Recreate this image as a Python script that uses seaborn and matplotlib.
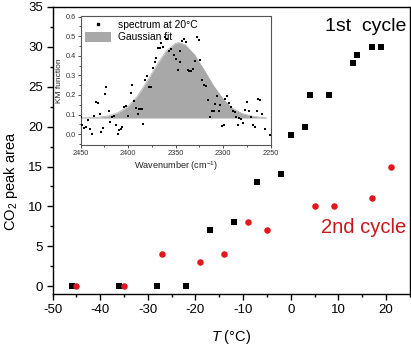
import matplotlib
matplotlib.use('Agg')
import matplotlib.pyplot as plt
from matplotlib.ticker import MultipleLocator
from matplotlib.patches import Patch
from matplotlib.lines import Line2D
import seaborn as sns

# --- main plot data: CO2 peak area vs temperature ---
cycle1_T = [-46, -36, -28, -22, -17, -12, -7, -2, 0, 3, 4, 8, 13, 14, 17, 19]
cycle1_area = [0, 0, 0, 0, 7, 8, 13, 14, 19, 20, 24, 24, 28, 29, 30, 30]
cycle2_T = [-45, -35, -27, -19, -14, -9, -5, 5, 9, 17, 21]
cycle2_area = [0, 0, 4, 3, 4, 8, 7, 10, 10, 11, 15]

# --- inset data: spectrum at 20 C ---
spec_wn = [2450, 2448, 2446, 2444, 2442, 2440, 2438, 2436, 2434, 2432, 2430, 2428,
           2426, 2424, 2423, 2420, 2419, 2417, 2415, 2413, 2411, 2410, 2408, 2406,
           2404, 2402, 2400, 2397, 2396, 2394, 2392, 2390, 2389, 2387, 2385, 2384,
           2382, 2380, 2378, 2376, 2374, 2372, 2371, 2369, 2366, 2365, 2363, 2361,
           2359, 2357, 2355, 2352, 2350, 2348, 2346, 2345, 2343, 2341, 2339, 2337,
           2336, 2334, 2332, 2330, 2328, 2326, 2324, 2322, 2320, 2318, 2316, 2314,
           2312, 2310, 2309, 2307, 2305, 2303, 2301, 2299, 2298, 2296, 2294, 2292,
           2290, 2288, 2287, 2285, 2283, 2281, 2279, 2277, 2275, 2273, 2271, 2269,
           2267, 2265, 2263, 2261, 2259, 2256, 2251]
spec_km = [0.087, 0.049, 0.031, 0.039, 0.070, 0.029, 0.002, 0.094, 0.165, 0.160, 0.105, 0.009,
           0.034, 0.204, 0.243, 0.120, 0.060, 0.090, 0.094, 0.048, 0.002, 0.019, 0.029, 0.036,
           0.138, 0.143, 0.094, 0.210, 0.252, 0.167, 0.133, 0.104, 0.129, 0.131, 0.128, 0.053,
           0.277, 0.298, 0.240, 0.240, 0.339, 0.369, 0.388, 0.442, 0.442, 0.463, 0.447, 0.498,
           0.486, 0.425, 0.435, 0.406, 0.384, 0.328, 0.367, 0.425, 0.476, 0.485, 0.468, 0.328,
           0.320, 0.323, 0.333, 0.374, 0.498, 0.481, 0.379, 0.277, 0.252, 0.247, 0.175, 0.087,
           0.120, 0.119, 0.156, 0.194, 0.120, 0.150, 0.043, 0.048, 0.179, 0.196, 0.158, 0.138,
           0.120, 0.111, 0.087, 0.046, 0.083, 0.078, 0.056, 0.121, 0.162, 0.120, 0.087, 0.049,
           0.039, 0.117, 0.182, 0.172, 0.104, 0.026, -0.002]

# Gaussian fit curve
fit_wn = [2450, 2440, 2430, 2420, 2410, 2400, 2390, 2380, 2370, 2360, 2350, 2347,
          2340, 2330, 2320, 2310, 2300, 2290, 2280, 2270, 2260, 2255]
fit_km = [0.083, 0.084, 0.087, 0.094, 0.111, 0.142, 0.196, 0.270, 0.352, 0.425, 0.464, 0.467,
          0.456, 0.404, 0.326, 0.245, 0.178, 0.131, 0.105, 0.092, 0.086, 0.085]
fit_base = 0.083

red = '#e3161c'
red_text = '#c9161c'
grey_fill = '#a8a8a8'

sns.set_style('ticks')
plt.rcParams['font.family'] = ['Liberation Sans', 'DejaVu Sans']
plt.rcParams['mathtext.fontset'] = 'custom'
plt.rcParams['mathtext.rm'] = 'Liberation Sans'
plt.rcParams['mathtext.it'] = 'Liberation Sans:italic'
plt.rcParams['axes.unicode_minus'] = False
plt.rcParams['text.color'] = 'black'
plt.rcParams['axes.labelcolor'] = 'black'
plt.rcParams['xtick.color'] = 'black'
plt.rcParams['ytick.color'] = 'black'

fig = plt.figure(figsize=(4.11, 3.46), dpi=100)
ax = fig.add_axes([0.128, 0.149, 0.869, 0.832])

sns.scatterplot(x=cycle1_T, y=cycle1_area, marker='s', color='black', s=18,
                linewidth=0, legend=False, ax=ax, zorder=3)
sns.scatterplot(x=cycle2_T, y=cycle2_area, marker='o', color=red, s=22,
                linewidth=0, legend=False, ax=ax, zorder=4)

ax.set_xlim(-50, 25)
ax.set_ylim(-1, 35)
ax.xaxis.set_major_locator(MultipleLocator(10))
ax.xaxis.set_minor_locator(MultipleLocator(5))
ax.yaxis.set_major_locator(MultipleLocator(5))
ax.yaxis.set_minor_locator(MultipleLocator(2.5))
ax.tick_params(which='major', direction='out', length=4, width=1, labelsize=9.5, pad=3)
ax.tick_params(which='minor', direction='out', length=2.5, width=1)
for sp in ax.spines.values():
    sp.set_color('black')
    sp.set_linewidth(1)

ax.set_xlabel('$T$ (°C)', fontsize=10.5)
ax.set_ylabel('CO$_2$ peak area', fontsize=10.5)
ax.xaxis.set_label_coords(0.5, -0.115)
ax.yaxis.set_label_coords(-0.092, 0.394)

ax.text(24.3, 32.5, '1st  cycle', ha='right', va='center', fontsize=14)
ax.text(24.3, 7.4, '2nd cycle', ha='right', va='center', fontsize=14.5, color=red_text)

# --- inset ---
ins = fig.add_axes([0.196, 0.581, 0.463, 0.374])
ins.set_facecolor('white')
ins.fill_between(fit_wn, fit_base, fit_km, color=grey_fill, linewidth=0)
ins.plot(fit_wn, fit_km, color=grey_fill, lw=0.5)
ins.plot([fit_wn[0], fit_wn[-1]], [fit_base, fit_base], color='#cfcfcf', lw=0.6)
sns.scatterplot(x=spec_wn, y=spec_km, marker='s', color='black', s=2.2,
                linewidth=0, legend=False, ax=ins, zorder=3)

ins.set_xlim(2450, 2250)
ins.set_ylim(-0.055, 0.605)
ins.xaxis.set_major_locator(MultipleLocator(50))
ins.xaxis.set_minor_locator(MultipleLocator(25))
ins.yaxis.set_major_locator(MultipleLocator(0.1))
ins.yaxis.set_minor_locator(MultipleLocator(0.05))
ins.yaxis.set_major_formatter(matplotlib.ticker.FormatStrFormatter('%.1f'))
ins.tick_params(which='major', direction='out', length=2, width=0.6, labelsize=5.3,
                pad=1.5, colors='#333333')
ins.tick_params(which='minor', direction='out', length=1.2, width=0.6, colors='#333333')
for sp in ins.spines.values():
    sp.set_color('#555555')
    sp.set_linewidth(0.8)
ins.set_xlabel('Wavenumber (cm$^{-1}$)', fontsize=6.6, labelpad=1.5, color='#222222')
ins.set_ylabel('KM function', fontsize=6, labelpad=1.5, color='#222222')

handles = [Line2D([], [], marker='s', ls='', color='black', markersize=1.4),
           Patch(facecolor=grey_fill, edgecolor='none')]
ins.legend(handles, ['spectrum at 20°C', 'Gaussian fit'], loc='upper left', frameon=False,
           fontsize=7.4, handlelength=2.6, handleheight=1.1, borderaxespad=0.1,
           labelspacing=0.15, handletextpad=0.6, borderpad=0.3)

fig.savefig('out.png', dpi=100)
